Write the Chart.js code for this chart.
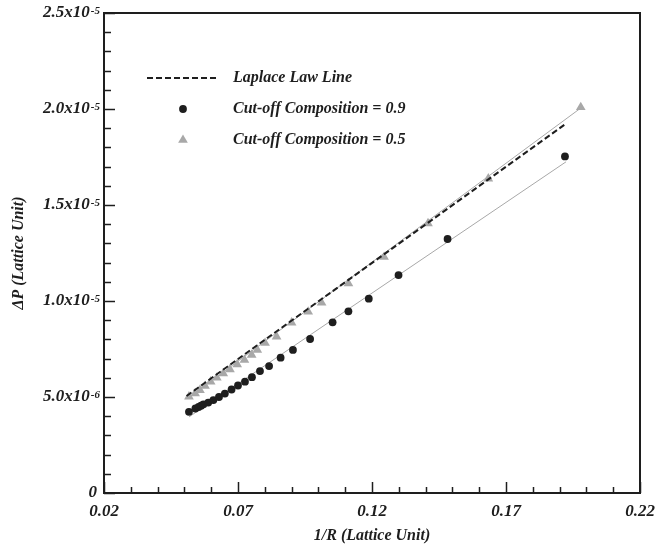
<!DOCTYPE html>
<html><head><meta charset="utf-8">
<script src="https://cdn.jsdelivr.net/npm/chart.js@4.4.1/dist/chart.umd.min.js"></script>
<style>html,body{margin:0;padding:0;background:#fff}#wrap{width:656px;height:549px;position:relative}</style>
</head><body><div id="wrap"><canvas id="c" width="656" height="549"></canvas></div>
<script>
// ---------- data ----------
const seriesLabels = ['Laplace Law Line', 'Cut-off Composition = 0.9', 'Cut-off Composition = 0.5'];

const laplaceX = [0.0508, 0.1920];
const laplaceY = [5.05e-6, 19.2e-6];

const comp09X = [0.0517, 0.0541, 0.0553, 0.0562, 0.0571, 0.0589, 0.0608, 0.0629, 0.0651, 0.0676, 0.0700, 0.0726, 0.0752, 0.0782, 0.0816, 0.0859, 0.0905, 0.0969, 0.1053, 0.1112, 0.1188, 0.1299, 0.1482, 0.1920];
const comp09Y = [4.23e-6, 4.40e-6, 4.48e-6, 4.55e-6, 4.62e-6, 4.71e-6, 4.84e-6, 5.00e-6, 5.18e-6, 5.39e-6, 5.60e-6, 5.80e-6, 6.03e-6, 6.35e-6, 6.61e-6, 7.05e-6, 7.45e-6, 8.02e-6, 8.89e-6, 9.46e-6, 10.12e-6, 11.35e-6, 13.23e-6, 17.53e-6];
const comp09FitX = [0.0517, 0.1924];
const comp09FitY = [3.96e-6, 17.25e-6];

const comp05X = [0.0517, 0.0540, 0.0558, 0.0577, 0.0598, 0.0621, 0.0645, 0.0670, 0.0697, 0.0724, 0.0751, 0.0772, 0.0801, 0.0844, 0.0900, 0.0962, 0.1012, 0.1112, 0.1245, 0.1409, 0.1634, 0.1979];
const comp05Y = [5.02e-6, 5.19e-6, 5.36e-6, 5.57e-6, 5.80e-6, 6.00e-6, 6.23e-6, 6.44e-6, 6.70e-6, 6.93e-6, 7.19e-6, 7.45e-6, 7.81e-6, 8.14e-6, 8.87e-6, 9.44e-6, 9.91e-6, 10.92e-6, 12.29e-6, 14.04e-6, 16.37e-6, 20.09e-6];
const comp05FitX = [0.0517, 0.1979];
const comp05FitY = [4.98e-6, 20.05e-6];

const xTickValues = [0.02, 0.07, 0.12, 0.17, 0.22];
const xTickLabels = ['0.02', '0.07', '0.12', '0.17', '0.22'];
const yTickValues = [0, 5e-6, 1e-5, 1.5e-5, 2e-5, 2.5e-5];
const yTickLabels = ['0', '5.0x10^-6', '1.0x10^-5', '1.5x10^-5', '2.0x10^-5', '2.5x10^-5'];
const xTitle = '1/R (Lattice Unit)';
const yTitle = 'ΔP (Lattice Unit)';

// ---------- helpers ----------
const pts = (xs, ys) => xs.map((x, i) => ({x: x, y: ys[i]}));
const FONT = '"Liberation Serif", "Times New Roman", serif';
const INK = '#1e1e1e';
const GREY = '#a8a8a8';
const TRI_R = 5.6;
const DOT_R = 3.9;

const decorPlugin = {
  id: 'decor',
  afterDatasetsDraw(chart) {
    const ctx = chart.ctx;
    const a = chart.chartArea;
    const xs = chart.scales.x, ys = chart.scales.y;
    ctx.save();
    // frame
    ctx.strokeStyle = INK;
    ctx.lineWidth = 2;
    ctx.strokeRect(a.left, a.top, a.right - a.left, a.bottom - a.top);
    // x ticks (inside)
    ctx.lineWidth = 1.5;
    const xMin = xTickValues[0], xMax = xTickValues[xTickValues.length - 1];
    const nx = Math.round((xMax - xMin) / 0.01);
    for (let i = 0; i <= nx; i++) {
      const v = xMin + i * 0.01;
      const px = Math.round(xs.getPixelForValue(v)) + 0.5;
      const len = (i % 5 === 0) ? 11 : 6;
      ctx.beginPath(); ctx.moveTo(px, a.bottom); ctx.lineTo(px, a.bottom - len); ctx.stroke();
    }
    const yMax = yTickValues[yTickValues.length - 1];
    const ny = Math.round(yMax / 1e-6);
    for (let i = 0; i <= ny; i++) {
      const v = i * 1e-6;
      const py = Math.round(ys.getPixelForValue(v)) + 0.5;
      const len = (i % 5 === 0) ? 11 : 7;
      ctx.beginPath(); ctx.moveTo(a.left, py); ctx.lineTo(a.left + len, py); ctx.stroke();
    }
    // x tick labels
    ctx.fillStyle = INK;
    ctx.font = 'bold italic 17px ' + FONT;
    ctx.textAlign = 'center';
    ctx.textBaseline = 'middle';
    xTickValues.forEach((v, i) => {
      ctx.fillText(xTickLabels[i], xs.getPixelForValue(v), a.bottom + 19);
    });
    // y tick labels with superscript exponent
    const rightEdge = a.left - 5;
    yTickValues.forEach((v, i) => {
      const py = ys.getPixelForValue(v);
      const parts = yTickLabels[i].split('^');
      const mant = parts[0], exp = parts[1] || '';
      ctx.font = 'bold italic 11px ' + FONT;
      const ew = exp ? ctx.measureText(exp).width : 0;
      ctx.font = 'bold italic 17px ' + FONT;
      const mw = ctx.measureText(mant).width;
      ctx.textAlign = 'left';
      ctx.textBaseline = 'middle';
      const x0 = (exp ? rightEdge : rightEdge - 2) - ew - mw;
      ctx.fillText(mant, x0, py);
      if (exp) {
        ctx.font = 'bold italic 11px ' + FONT;
        ctx.textBaseline = 'alphabetic';
        ctx.fillText(exp, x0 + mw + 1, py + 1);
      }
    });
    // legend
    const sx = a.left + 79;
    const rows = [a.top + 65, a.top + 96, a.top + 127];
    const tx = a.left + 129;
    ctx.strokeStyle = INK; ctx.lineWidth = 2; ctx.setLineDash([6, 3]);
    ctx.beginPath(); ctx.moveTo(a.left + 43, rows[0]); ctx.lineTo(a.left + 114, rows[0]); ctx.stroke();
    ctx.setLineDash([]);
    ctx.fillStyle = INK;
    ctx.beginPath(); ctx.arc(sx, rows[1], DOT_R, 0, Math.PI * 2); ctx.fill();
    const r = TRI_R;
    ctx.fillStyle = GREY;
    ctx.beginPath();
    ctx.moveTo(sx, rows[2] - r);
    ctx.lineTo(sx + r * Math.sin(Math.PI / 3), rows[2] + r / 2);
    ctx.lineTo(sx - r * Math.sin(Math.PI / 3), rows[2] + r / 2);
    ctx.closePath(); ctx.fill();
    ctx.fillStyle = INK;
    ctx.font = 'bold italic 16px ' + FONT;
    ctx.textAlign = 'left'; ctx.textBaseline = 'middle';
    seriesLabels.forEach((t, i) => ctx.fillText(t, tx, rows[i]));
    ctx.restore();
  }
};

new Chart(document.getElementById('c'), {
  type: 'scatter',
  data: {
    datasets: [
      {label: seriesLabels[0], data: pts(laplaceX, laplaceY), showLine: true, borderColor: INK, borderWidth: 2, borderDash: [6, 3], pointRadius: 0, order: 0},
      {label: seriesLabels[1], data: pts(comp09X, comp09Y), showLine: false, pointStyle: 'circle', pointRadius: DOT_R, backgroundColor: INK, borderColor: INK, borderWidth: 0, order: 1},
      {label: seriesLabels[2], data: pts(comp05X, comp05Y), showLine: false, pointStyle: 'triangle', pointRadius: TRI_R, backgroundColor: GREY, borderColor: GREY, borderWidth: 0, order: 2},
      {label: 'fit 0.9', data: pts(comp09FitX, comp09FitY), showLine: true, borderColor: GREY, borderWidth: 1, pointRadius: 0, order: 3},
      {label: 'fit 0.5', data: pts(comp05FitX, comp05FitY), showLine: true, borderColor: GREY, borderWidth: 1, pointRadius: 0, order: 4}
    ]
  },
  options: {
    responsive: false,
    animation: false,
    devicePixelRatio: 1,
    layout: {padding: {top: 13, right: 16, left: 0, bottom: 0}},
    plugins: {legend: {display: false}, tooltip: {enabled: false}},
    scales: {
      x: {
        type: 'linear', min: xTickValues[0], max: xTickValues[xTickValues.length - 1],
        grid: {display: false}, border: {display: false},
        ticks: {display: false},
        afterFit: s => { s.height = 56; },
        title: {display: true, text: xTitle, color: INK, font: {family: FONT, size: 16, weight: 'bold', style: 'italic'}, padding: {top: 0, bottom: 4}}
      },
      y: {
        type: 'linear', min: yTickValues[0], max: yTickValues[yTickValues.length - 1],
        grid: {display: false}, border: {display: false},
        ticks: {display: false},
        afterFit: s => { s.width = 104; },
        title: {display: true, text: yTitle, color: INK, font: {family: FONT, size: 16, weight: 'bold', style: 'italic'}, padding: {top: 9, bottom: 0}}
      }
    }
  },
  plugins: [decorPlugin]
});
</script>
</body></html>
